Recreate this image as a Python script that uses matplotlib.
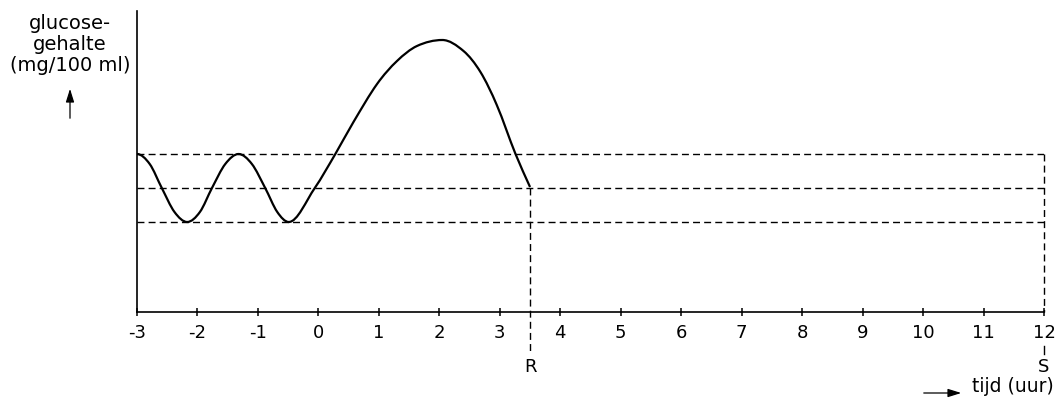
import matplotlib
matplotlib.use("Agg")
import matplotlib.pyplot as plt
from matplotlib.path import Path
from matplotlib.patches import PathPatch, FancyArrowPatch
import numpy as np

plt.rcParams['font.family'] = ['DejaVu Sans']
plt.rcParams['lines.scale_dashes'] = False

# ---- data (y in arbitrary glucose units) ----
curve_x = [-3.00, -2.79, -2.59, -2.38, -2.17, -1.96, -1.76, -1.54, -1.32, -1.10,
           -0.88, -0.68, -0.49, -0.06, 0.28, 0.58, 0.97, 1.30, 1.63,
           2.05, 2.40, 2.68, 2.95, 3.26, 3.50]
curve_y = [158, 148, 124, 100, 90, 100, 124, 148, 158, 148,
           124, 100, 90, 124, 158, 190, 228, 251, 266,
           272, 261, 240, 207, 158, 125]
levels = [158, 124, 90]
x_ticks = list(range(-3, 13))
x_ticklabels = [str(v) for v in x_ticks]
R_x, S_x = 3.5, 12
y_label_lines = ["glucose-", "gehalte", "(mg/100 ml)"]
x_label = "tijd (uur)"

W, H = 1063, 406
fig = plt.figure(figsize=(W / 100, H / 100), dpi=100)
ax = fig.add_axes([137 / W, (H - 313) / H, (1044 - 137) / W, (313 - 12) / H])
ax.set_xlim(-3, 12)
ax.set_ylim(0, 301)
for s in ['top', 'right']:
    ax.spines[s].set_visible(False)
for s in ['left', 'bottom']:
    ax.spines[s].set_linewidth(1.2)
ax.set_yticks([])
ax.set_xticks(x_ticks)
ax.set_xticklabels(x_ticklabels, fontsize=13)
ax.tick_params(axis='x', direction='inout', length=6, width=1.1, pad=5)

# ---- smooth curve through read points (cubic Hermite drawn as Bezier path) ----
xa = np.array(curve_x, float)
ya = np.array(curve_y, float)
h = np.diff(xa)
d = np.zeros_like(ya)
for k in range(1, len(xa) - 1):
    if (ya[k] - ya[k - 1]) * (ya[k + 1] - ya[k]) <= 0:
        d[k] = 0.0
    else:
        d[k] = (ya[k + 1] - ya[k - 1]) / (xa[k + 1] - xa[k - 1])
d[0] = 0.0
d[-1] = (ya[-1] - ya[-2]) / h[-1]
verts = [(xa[0], ya[0])]
codes = [Path.MOVETO]
for i in range(len(h)):
    verts += [(xa[i] + h[i] / 3, ya[i] + d[i] * h[i] / 3),
              (xa[i + 1] - h[i] / 3, ya[i + 1] - d[i + 1] * h[i] / 3),
              (xa[i + 1], ya[i + 1])]
    codes += [Path.CURVE4] * 3
ax.add_patch(PathPatch(Path(verts, codes), fill=False, lw=1.6, color='black',
                       capstyle='butt', joinstyle='round'))

# ---- dashed reference lines ----
dash = (0, (5.0, 3.0))
for lv in levels:
    ax.plot([-3, 12], [lv, lv], color='black', lw=1.0, linestyle=dash)
ax.plot([S_x, S_x], [levels[0], 0], color='black', lw=1.0, linestyle=dash, clip_on=False)
ax.plot([S_x, S_x], [-34, -42], color='black', lw=1.0, clip_on=False)
ax.plot([R_x, R_x], [levels[1], -42], color='black', lw=1.0, linestyle=dash, clip_on=False)

# ---- R and S labels ----
ax.text(R_x, -54, "R", ha='center', va='center', fontsize=13, clip_on=False)
ax.text(S_x, -54, "S", ha='center', va='center', fontsize=13, clip_on=False)

# ---- y label with arrow ----
for i, t in enumerate(y_label_lines):
    fig.text(70 / W, 1 - (29 + 21 * i) / H, t, ha='center', va='baseline', fontsize=14)
fig.add_artist(FancyArrowPatch(
    (70 / W, 1 - 122 / H), (70 / W, 1 - 87 / H), transform=fig.transFigure,
    arrowstyle='-|>,head_length=0.8,head_width=0.25', mutation_scale=10,
    lw=0.9, color='black'))

# ---- x label with arrow ----
fig.text(972 / W, 1 - 392 / H, x_label, ha='left', va='baseline', fontsize=13.5)
fig.add_artist(FancyArrowPatch(
    (921 / W, 1 - 394 / H), (964 / W, 1 - 394 / H), transform=fig.transFigure,
    arrowstyle='-|>,head_length=0.8,head_width=0.25', mutation_scale=10,
    lw=0.9, color='black'))

fig.savefig("out.png", dpi=100)
